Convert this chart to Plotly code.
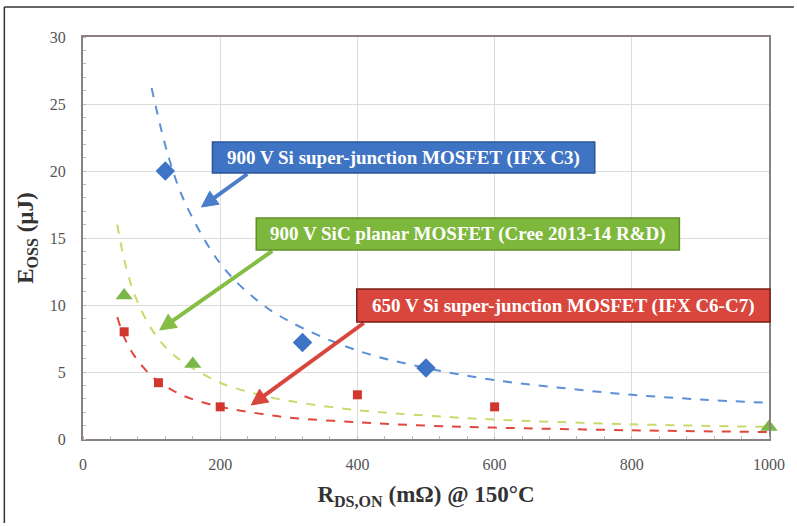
import math
import plotly.graph_objects as go

# ---------------- data ----------------
blue_x = [120, 320, 500]
blue_y = [20.0, 7.2, 5.3]
green_x = [60, 160, 1000]
green_y = [10.7, 5.6, 0.9]
red_x = [60, 110, 200, 400, 600]
red_y = [8.0, 4.2, 2.4, 3.3, 2.4]

# power trend lines
blue_tx = [100, 125, 150, 200, 250, 300, 400, 500, 600, 700, 800, 900, 1000]
blue_ty = [26.2, 21.0, 17.5, 13.1, 10.5, 8.8, 6.6, 5.3, 4.4, 3.8, 3.3, 2.95, 2.7]
green_tx = [50, 60, 75, 100, 125, 150, 200, 250, 300, 400, 500, 600, 800, 1000]
green_ty = [16.0, 13.4, 10.8, 8.2, 6.6, 5.6, 4.2, 3.4, 2.85, 2.15, 1.75, 1.45, 1.1, 0.9]
red_tx = [50, 60, 75, 100, 125, 150, 200, 250, 300, 400, 500, 600, 800, 1000]
red_ty = [9.1, 7.6, 6.2, 4.7, 3.8, 3.15, 2.4, 1.95, 1.6, 1.25, 1.0, 0.85, 0.65, 0.52]

labels = ["900 V Si super-junction MOSFET (IFX C3)",
          "900 V SiC planar MOSFET (Cree 2013-14 R&D)",
          "650 V Si super-junction MOSFET (IFX C6-C7)"]

x_ticks = [0, 200, 400, 600, 800, 1000]
y_ticks = [0, 5, 10, 15, 20, 25, 30]

# ---------------- layout helpers ----------------
W, H = 797, 526
L, R, T, B = 83, 772, 37, 439


def px(p):
    return (p - L) / (R - L)


def py(p):
    return (B - p) / (B - T)


SERIF = "Liberation Serif, Times New Roman, serif"

fig = go.Figure()

fig.add_trace(go.Scatter(x=blue_tx, y=blue_ty, mode="lines", line=dict(color="#5b8fd8", width=2, dash="dash", shape="spline"), showlegend=False))
fig.add_trace(go.Scatter(x=green_tx, y=green_ty, mode="lines", line=dict(color="#c9da6b", width=2, dash="dash", shape="spline"), showlegend=False))
fig.add_trace(go.Scatter(x=red_tx, y=red_ty, mode="lines", line=dict(color="#e0483e", width=2, dash="dash", shape="spline"), showlegend=False))

fig.add_trace(go.Scatter(x=blue_x, y=blue_y, mode="markers", cliponaxis=False, marker=dict(symbol="diamond", size=15, color="#3d74c8"), showlegend=False))
fig.add_trace(go.Scatter(x=green_x, y=green_y, mode="markers", cliponaxis=False, marker=dict(symbol="triangle-up", size=15, color="#7ab648"), showlegend=False))
fig.add_trace(go.Scatter(x=red_x, y=red_y, mode="markers", cliponaxis=False, marker=dict(symbol="square", size=9, color="#d0382f"), showlegend=False))

boxes = [
    # (x0, x1, y0, y1, fill, border)
    (213, 597, 142, 173, "#3f73c3", "#2d5596"),
    (257, 682, 218, 250, "#7db83c", "#5f8f2a"),
    (358, 773, 289, 322, "#d9463d", "#7a1c16"),
]
arrows = [
    # tail(x,y), tip(x,y), colour
    ((248, 174), (202, 207), "#4a7dca"),
    ((273, 251), (160, 330), "#86bd44"),
    ((365, 323), (252, 405), "#d9463d"),
]

for (tail, tip, col) in arrows:
    dx, dy = tip[0] - tail[0], tip[1] - tail[1]
    ln = math.hypot(dx, dy)
    ux, uy = dx / ln, dy / ln
    hl, hw = 16, 8
    bx, by = tip[0] - ux * hl, tip[1] - uy * hl
    nx, ny = -uy, ux
    fig.add_shape(type="line", xref="paper", yref="paper",
                  x0=px(tail[0]), y0=py(tail[1]), x1=px(bx + ux * 2), y1=py(by + uy * 2),
                  line=dict(color=col, width=4))
    path = "M {} {} L {} {} L {} {} Z".format(
        px(tip[0]), py(tip[1]),
        px(bx + nx * hw), py(by + ny * hw),
        px(bx - nx * hw), py(by - ny * hw))
    fig.add_shape(type="path", xref="paper", yref="paper", path=path,
                  fillcolor=col, line=dict(color=col, width=1))

for lab, (x0, x1, y0, y1, fill, border) in zip(labels, boxes):
    fig.add_shape(type="rect", xref="paper", yref="paper",
                  x0=px(x0), x1=px(x1), y0=py(y0), y1=py(y1),
                  fillcolor=fill, line=dict(color=border, width=1.5), layer="above")
    fig.add_annotation(xref="paper", yref="paper", x=px((x0 + x1) / 2), y=py((y0 + y1) / 2),
                       xanchor="center", yanchor="middle", text="<b>" + lab + "</b>",
                       showarrow=False,
                       font=dict(family=SERIF, size=19, color="white"))

# outer frame (top + left lines)
fig.add_shape(type="line", xref="paper", yref="paper", x0=px(4), x1=px(797), y0=py(7), y1=py(7),
              line=dict(color="#333333", width=1.5))
fig.add_shape(type="line", xref="paper", yref="paper", x0=px(4), x1=px(4), y0=py(7), y1=py(523),
              line=dict(color="#333333", width=1.5))

fig.update_xaxes(range=[0, 1000], tickvals=x_ticks, ticktext=[str(v) for v in x_ticks],
                 showgrid=True, gridcolor="#dcdcdc", gridwidth=1,
                 showline=True, linecolor="#8a8080", linewidth=2, mirror=True,
                 ticks="", zeroline=False, ticklabelstandoff=10,
                 minor=dict(dtick=40, ticks="inside", ticklen=3, tickcolor="#bbbbbb", showgrid=False),
                 tickfont=dict(family=SERIF, size=16, color="#555555"),
                 title=dict(text="<b>R<sub>DS,ON</sub> (mΩ) @ 150°C</b>", standoff=14,
                            font=dict(family=SERIF, size=23, color="#333333")))
fig.update_yaxes(range=[0, 30], tickvals=y_ticks, ticktext=[str(v) for v in y_ticks],
                 showgrid=True, gridcolor="#dcdcdc", gridwidth=1,
                 showline=True, linecolor="#8a8080", linewidth=2, mirror=True,
                 ticks="", zeroline=False, ticklabelstandoff=12,
                 minor=dict(dtick=1, ticks="inside", ticklen=3, tickcolor="#bbbbbb", showgrid=False),
                 tickfont=dict(family=SERIF, size=16, color="#555555"),
                 title=dict(text="<b>E<sub>OSS</sub> (µJ)</b>", standoff=10,
                            font=dict(family=SERIF, size=23, color="#333333")))

fig.update_layout(width=W, height=H, margin=dict(l=L, r=W - R, t=T, b=H - B),
                  plot_bgcolor="white", paper_bgcolor="white")

fig.write_html("out.html", config={"displayModeBar": False},
               post_script="document.body.style.margin='0';")
